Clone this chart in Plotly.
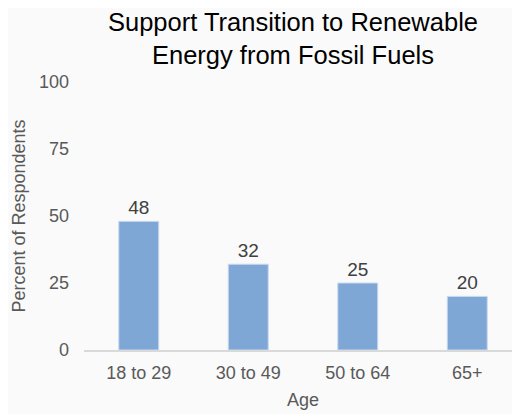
import plotly.graph_objects as go

categories = ["18 to 29", "30 to 49", "50 to 64", "65+"]
values = [48, 32, 25, 20]
y_ticks = [0, 25, 50, 75, 100]

FONT = "Liberation Sans, Arial, sans-serif"

fig = go.Figure(go.Bar(
    x=categories, y=values,
    marker=dict(color="#7fa7d6", line=dict(color="#c9d9ee", width=1)),
    text=[str(v) for v in values], textposition="outside",
    textfont=dict(size=19, color="#404040", family=FONT),
    cliponaxis=False,
))

fig.update_layout(
    width=520, height=414,
    margin=dict(l=76, r=6, t=74, b=72, autoexpand=False),
    paper_bgcolor="#fafafa", plot_bgcolor="#fafafa",
    font=dict(family=FONT, color="#595959", size=18),
    bargap=0.635,
    showlegend=False,
    xaxis=dict(title=dict(text="Age", standoff=12, font=dict(size=18, color="#595959")),
               showline=True, linecolor="#d9d9d9", linewidth=2, ticks="",
               tickfont=dict(size=18, color="#595959"), showgrid=False, automargin=False,
               ticklabelstandoff=5),
    yaxis=dict(title=dict(text="Percent of Respondents", standoff=8, font=dict(size=18, color="#595959")),
               range=[0, 100], tickvals=y_ticks, showgrid=False, zeroline=False,
               showline=False, ticks="", tickfont=dict(size=18, color="#595959"),
               ticklabelstandoff=14, automargin=False),
    annotations=[dict(
        text="Support Transition to Renewable<br>Energy from Fossil Fuels",
        xref="paper", yref="paper", x=0.478, y=1, xanchor="center", yanchor="bottom",
        yshift=11, showarrow=False, font=dict(size=25.5, color="#000000", family=FONT),
    )],
)

fig.write_html("out.html")
